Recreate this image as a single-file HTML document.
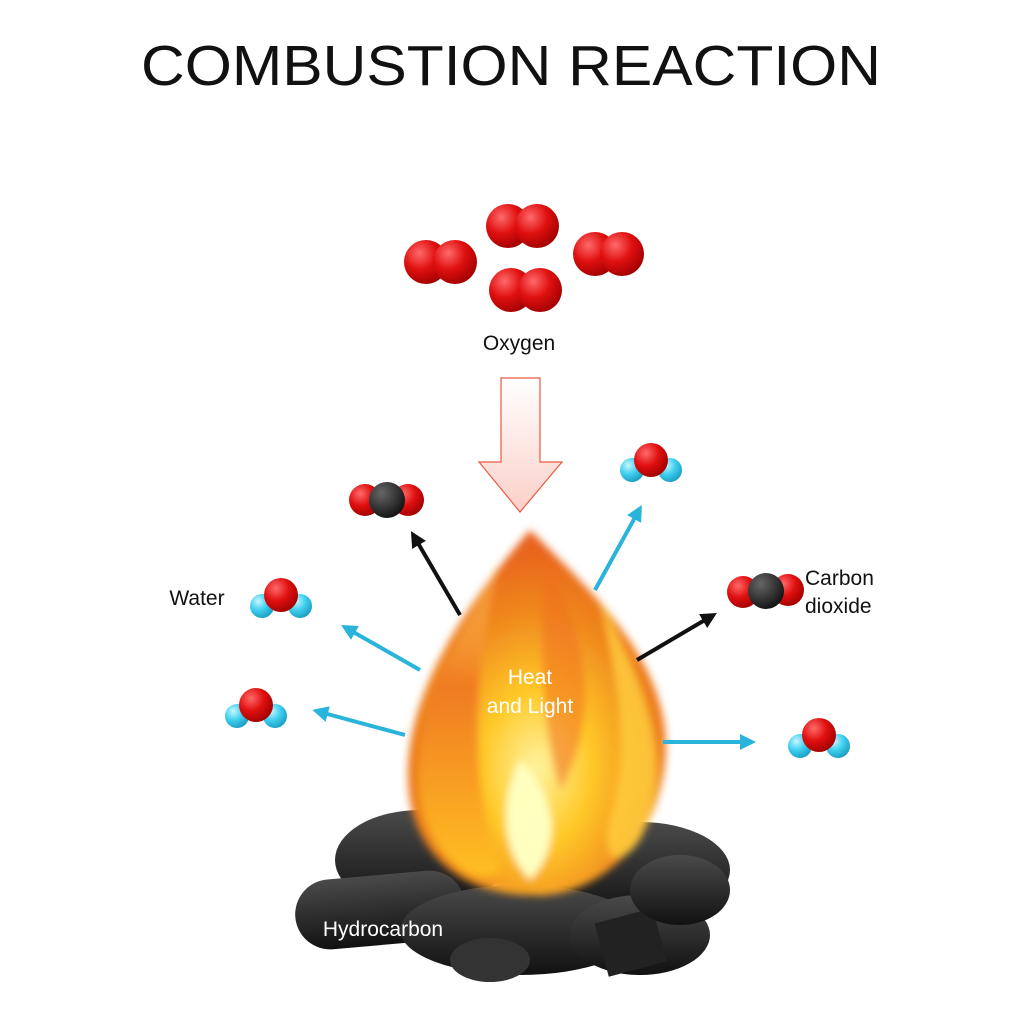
<!DOCTYPE html>
<html><head><meta charset="utf-8"><style>
body{margin:0;background:#fff;width:1024px;height:1024px;overflow:hidden}
svg{display:block}
</style></head><body>
<svg width="1024" height="1024" viewBox="0 0 1024 1024" xmlns="http://www.w3.org/2000/svg">
<defs>
<radialGradient id="red" cx="0.35" cy="0.3" r="0.75"><stop offset="0" stop-color="#ff6a6a"/><stop offset="0.5" stop-color="#e01010"/><stop offset="1" stop-color="#a00000"/></radialGradient>
<radialGradient id="blk" cx="0.35" cy="0.3" r="0.75"><stop offset="0" stop-color="#666"/><stop offset="1" stop-color="#111"/></radialGradient>
<radialGradient id="cy" cx="0.35" cy="0.3" r="0.75"><stop offset="0" stop-color="#c8f6ff"/><stop offset="0.5" stop-color="#40d0f0"/><stop offset="1" stop-color="#1a9cc0"/></radialGradient>
<linearGradient id="arr" x1="0" y1="0" x2="0" y2="1"><stop offset="0" stop-color="#fff"/><stop offset="1" stop-color="#fbd0c8"/></linearGradient>
<radialGradient id="fire" cx="0.5" cy="0.65" r="0.6"><stop offset="0" stop-color="#fff3a0"/><stop offset="0.35" stop-color="#ffc928"/><stop offset="0.7" stop-color="#f08a1e"/><stop offset="1" stop-color="#e8641e"/></radialGradient>
<linearGradient id="flameO" x1="0" y1="0" x2="0" y2="1"><stop offset="0" stop-color="#ffd060" stop-opacity="0.3"/><stop offset="0.4" stop-color="#f07a20"/><stop offset="1" stop-color="#ffc020"/></linearGradient>
<linearGradient id="coal" x1="0" y1="0" x2="0" y2="1"><stop offset="0" stop-color="#4a4a4a"/><stop offset="1" stop-color="#111"/></linearGradient>
<filter id="blur"><feGaussianBlur stdDeviation="4"/></filter>
<marker id="mb" viewBox="0 0 10 10" refX="5" refY="5" markerWidth="4" markerHeight="4" orient="auto"><path d="M0,0 L10,5 L0,10 z" fill="#111"/></marker>
<marker id="mc" viewBox="0 0 10 10" refX="5" refY="5" markerWidth="4" markerHeight="4" orient="auto"><path d="M0,0 L10,5 L0,10 z" fill="#2ab4dc"/></marker>
</defs>
<text x="511" y="85" text-anchor="middle" font-family="Liberation Sans, sans-serif" font-size="57" textLength="740" lengthAdjust="spacingAndGlyphs" fill="#111">COMBUSTION REACTION</text>

<!-- oxygen -->
<g fill="url(#red)">
<circle cx="426" cy="262" r="22"/><circle cx="455" cy="262" r="22"/>
<circle cx="508" cy="226" r="22"/><circle cx="537" cy="226" r="22"/>
<circle cx="595" cy="254" r="22"/><circle cx="622" cy="254" r="22"/>
<circle cx="511" cy="290" r="22"/><circle cx="540" cy="290" r="22"/>
</g>
<text x="519" y="350" text-anchor="middle" font-family="Liberation Sans, sans-serif" font-size="21" fill="#111">Oxygen</text>
<path d="M501,378 L540,378 L540,462 L562,462 L520,512 L479,462 L501,462 Z" fill="url(#arr)" stroke="#e85a40" stroke-width="1.2"/>

<!-- coals -->
<g fill="url(#coal)">
<ellipse cx="420" cy="860" rx="85" ry="50"/>
<ellipse cx="640" cy="870" rx="90" ry="48"/>
<rect x="295" y="875" width="170" height="70" rx="35" transform="rotate(-5 380 910)"/>
<ellipse cx="520" cy="930" rx="120" ry="45"/>
<ellipse cx="640" cy="935" rx="70" ry="40"/>
<rect x="600" y="915" width="60" height="55" transform="rotate(-15 630 940)" fill="#222"/>
<ellipse cx="490" cy="960" rx="40" ry="22" fill="#333"/>
<ellipse cx="680" cy="890" rx="50" ry="35"/>
</g>

<!-- flames -->
<g filter="url(#blur)">
<path d="M530,530 C600,600 690,680 660,790 C640,870 570,900 530,895 C470,895 410,860 408,780 C405,690 470,600 530,530 Z" fill="url(#fire)"/>
<path d="M500,560 C470,620 410,700 420,800 C430,860 480,890 500,870 C470,780 470,680 500,560 Z" fill="url(#flameO)"/>
<path d="M600,600 C640,680 680,760 640,840 C620,870 600,860 610,820 C630,750 620,690 600,600 Z" fill="#ffd040" opacity="0.8"/>
<path d="M520,760 C500,800 500,850 530,880 C560,850 560,800 520,760 Z" fill="#ffffc0"/>
<path d="M545,560 C590,640 600,720 560,790 C540,720 540,640 545,560 Z" fill="#f07020" opacity="0.55"/>
</g>
<text x="530" y="684" text-anchor="middle" font-family="Liberation Sans, sans-serif" font-size="21" fill="#fff">Heat</text>
<text x="530" y="713" text-anchor="middle" font-family="Liberation Sans, sans-serif" font-size="21" fill="#fff">and Light</text>
<text x="383" y="936" text-anchor="middle" font-family="Liberation Sans, sans-serif" font-size="21" fill="#fff">Hydrocarbon</text>

<!-- arrows -->
<g stroke-width="4" fill="none">
<line x1="460" y1="615" x2="415" y2="538" stroke="#111" marker-end="url(#mb)"/>
<line x1="637" y1="660" x2="710" y2="617" stroke="#111" marker-end="url(#mb)"/>
<line x1="595" y1="590" x2="638" y2="512" stroke="#2ab4dc" marker-end="url(#mc)"/>
<line x1="420" y1="670" x2="348" y2="629" stroke="#2ab4dc" marker-end="url(#mc)"/>
<line x1="405" y1="735" x2="320" y2="712" stroke="#2ab4dc" marker-end="url(#mc)"/>
<line x1="663" y1="742" x2="748" y2="742" stroke="#2ab4dc" marker-end="url(#mc)"/>
</g>

<!-- CO2 -->
<g><circle cx="365" cy="500" r="16" fill="url(#red)"/><circle cx="408" cy="500" r="16" fill="url(#red)"/><circle cx="387" cy="500" r="18" fill="url(#blk)"/></g>
<g><circle cx="743" cy="592" r="16" fill="url(#red)"/><circle cx="788" cy="590" r="16" fill="url(#red)"/><circle cx="766" cy="591" r="18" fill="url(#blk)"/></g>
<!-- water -->
<g><circle cx="632" cy="470" r="12" fill="url(#cy)"/><circle cx="670" cy="470" r="12" fill="url(#cy)"/><circle cx="651" cy="460" r="17" fill="url(#red)"/></g>
<g><circle cx="262" cy="606" r="12" fill="url(#cy)"/><circle cx="300" cy="606" r="12" fill="url(#cy)"/><circle cx="281" cy="595" r="17" fill="url(#red)"/></g>
<g><circle cx="237" cy="716" r="12" fill="url(#cy)"/><circle cx="275" cy="716" r="12" fill="url(#cy)"/><circle cx="256" cy="705" r="17" fill="url(#red)"/></g>
<g><circle cx="800" cy="746" r="12" fill="url(#cy)"/><circle cx="838" cy="746" r="12" fill="url(#cy)"/><circle cx="819" cy="735" r="17" fill="url(#red)"/></g>

<text x="197" y="605" text-anchor="middle" font-family="Liberation Sans, sans-serif" font-size="21" fill="#111">Water</text>
<text x="805" y="585" font-family="Liberation Sans, sans-serif" font-size="21" fill="#111">Carbon</text>
<text x="805" y="613" font-family="Liberation Sans, sans-serif" font-size="21" fill="#111">dioxide</text>
</svg>
</body></html>
